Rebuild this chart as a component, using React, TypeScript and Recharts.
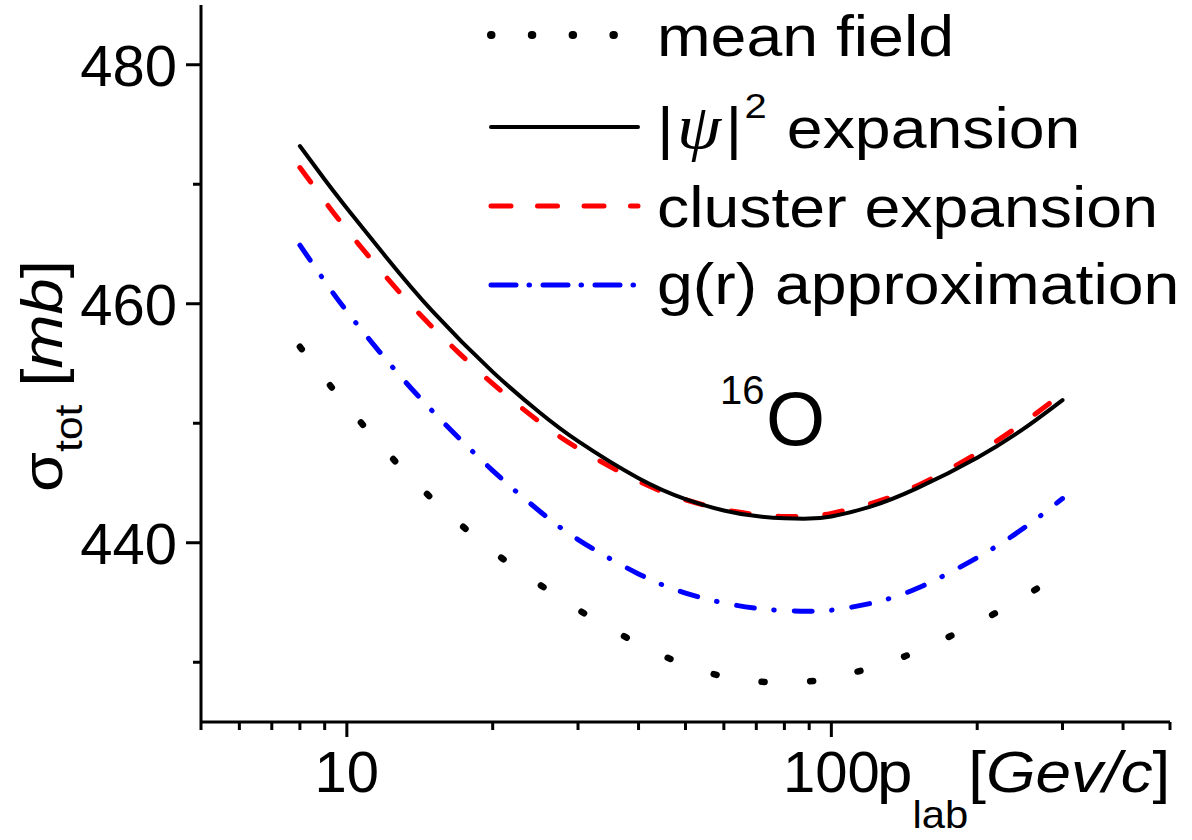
import React from "react";
import { LineChart, Line, XAxis, YAxis, Customized } from "recharts";

// p_lab [GeV/c] sample points
const P_LAB = [8, 9, 10, 12, 15, 20, 25, 30, 40, 50, 60, 70, 80, 90, 100, 120, 150, 200, 250, 300];

// sigma_tot [mb]
const MEAN_FIELD = [456.4, 453.75, 451.45, 447.74, 443.67, 439.3, 436.5, 434.4, 431.53, 429.78, 428.8, 428.4, 428.3, 428.4, 428.7, 429.5, 430.9, 433.3, 435.5, 437.5];
const PSI2_EXP = [473.2, 470.4, 468.0, 464.0, 459.4, 454.3, 450.9, 448.5, 445.4, 443.65, 442.7, 442.23, 442.05, 442.02, 442.2, 443.0, 444.55, 447.12, 449.57, 451.94];
const CLUSTER_EXP = [471.4, 468.6, 466.2, 462.33, 458.06, 453.31, 450.11, 447.9, 445.15, 443.6, 442.77, 442.37, 442.2, 442.23, 442.46, 443.25, 444.75, 447.5, 450.1, 452.5];
const GR_APPROX = [464.9, 461.89, 459.36, 455.41, 451.04, 446.04, 442.64, 440.27, 437.39, 435.79, 434.96, 434.52, 434.32, 434.27, 434.36, 434.91, 436.17, 438.75, 441.25, 443.7];

const X_TICKS = [5, 6, 7, 8, 9, 10, 20, 30, 40, 50, 60, 70, 80, 90, 100, 200, 300, 400, 500];
const X_LABELS = [10, 100];
const Y_TICKS = [430, 440, 450, 460, 470, 480];
const Y_LABELS = [440, 460, 480];

const data = P_LAB.map((p, i) => ({
  p,
  mf: MEAN_FIELD[i],
  psi: PSI2_EXP[i],
  cl: CLUSTER_EXP[i],
  gr: GR_APPROX[i],
}));

const FONT = "'Liberation Sans', Arial, sans-serif";

const STYLES = {
  mf: { stroke: "#000", strokeWidth: 6.5, strokeDasharray: "3 45.7" },
  psi: { stroke: "#000", strokeWidth: 4, strokeDasharray: undefined },
  cl: { stroke: "#ff0000", strokeWidth: 5, strokeDasharray: "18 29" },
  gr: { stroke: "#0000ff", strokeWidth: 5, strokeDasharray: "18 19.5 0.5 20" },
};

// legend samples are drawn a little differently from the curves
const LEGEND = [
  { key: "mf", y: 35, x2: 615, width: 8, dash: "0.5 40.3" },
  { key: "psi", y: 127, x2: 638, width: 4, dash: undefined },
  { key: "cl", y: 206, x2: 638, width: 5, dash: "20 26.5" },
  { key: "gr", y: 285, x2: 638, width: 5, dash: "25 13 0.5 13.5" },
] as const;

function XTick({ x, y, payload }: any) {
  const major = X_LABELS.includes(payload.value);
  return (
    <g>
      <line x1={x} y1={y} x2={x} y2={y + (major ? 15 : 8)} stroke="#000" strokeWidth={3} />
      {major && (
        <text x={x} y={y + 70} textAnchor="middle" fontSize={58} fontFamily={FONT} fill="#000">
          {payload.value}
        </text>
      )}
    </g>
  );
}

function YTick({ x, y, payload }: any) {
  const major = Y_LABELS.includes(payload.value);
  return (
    <g>
      <line x1={x} y1={y} x2={x - (major ? 15 : 8)} y2={y} stroke="#000" strokeWidth={3} />
      {major && (
        <text x={x - 24} y={y + 21} textAnchor="end" fontSize={58} fontFamily={FONT} fill="#000">
          {payload.value}
        </text>
      )}
    </g>
  );
}

function Annotations() {
  return (
    <g fontFamily={FONT} fill="#000">
      {LEGEND.map((l) => (
        <line
          key={l.key}
          x1={491}
          x2={l.x2}
          y1={l.y}
          y2={l.y}
          stroke={STYLES[l.key].stroke}
          strokeWidth={l.width}
          strokeDasharray={l.dash}
          strokeLinecap="round"
        />
      ))}
      <g transform="translate(657,56) scale(1.11,1)">
        <text fontSize={58}>mean field</text>
      </g>
      <g transform="translate(657,148) scale(1.11,1)">
        <text fontSize={58}>
          <tspan>|</tspan>
          <tspan dx={3} fontSize={64} fontFamily="'Liberation Serif', serif" fontStyle="italic">ψ</tspan>
          <tspan dx={4}>|</tspan>
          <tspan dx={2} fontSize={36} dy={-30}>2</tspan>
          <tspan x={117} dy={30}>expansion</tspan>
        </text>
      </g>
      <g transform="translate(657,227) scale(1.11,1)">
        <text fontSize={58}>cluster expansion</text>
      </g>
      <g transform="translate(657,304) scale(1.11,1)">
        <text fontSize={58}>g(r) approximation</text>
      </g>

      {/* nucleus label */}
      <text x={720} y={404} fontSize={40}>16</text>
      <text x={766} y={445} fontSize={76}>O</text>

      {/* x-axis title */}
      <g transform="translate(877,792) scale(1.1,1)">
        <text fontSize={58}>
          <tspan>p</tspan>
          <tspan fontSize={38} dy={36}>lab</tspan>
          <tspan dy={-36}>[</tspan>
          <tspan fontStyle="italic">Gev/c</tspan>
          <tspan>]</tspan>
        </text>
      </g>

      {/* y-axis title */}
      <g transform="translate(62,492) rotate(-90) scale(1.12,1)">
        <text fontSize={58}>
          <tspan>σ</tspan>
          <tspan fontSize={38} dy={20}>tot</tspan>
          <tspan dy={-20}> [</tspan>
          <tspan fontStyle="italic">mb</tspan>
          <tspan>]</tspan>
        </text>
      </g>
    </g>
  );
}

export default function App() {
  return (
    <div style={{ position: "absolute", left: 0, top: 0, width: 1192, height: 840, background: "#fff" }}>
      <LineChart width={1192} height={840} data={data} margin={{ top: 5, right: 22, left: 101, bottom: 58 }}>
        <XAxis
          dataKey="p"
          type="number"
          scale="log"
          domain={[5, 500]}
          ticks={X_TICKS}
          interval={0}
          allowDataOverflow
          height={60}
          tickSize={0}
          tickMargin={0}
          tickLine={false}
          axisLine={{ stroke: "#000", strokeWidth: 3 }}
          tick={<XTick />}
        />
        <YAxis
          type="number"
          domain={[425, 485]}
          ticks={Y_TICKS}
          interval={0}
          allowDataOverflow
          width={100}
          tickSize={0}
          tickMargin={0}
          tickLine={false}
          axisLine={{ stroke: "#000", strokeWidth: 3 }}
          tick={<YTick />}
        />
        {(["mf", "gr", "cl", "psi"] as const).map((k) => (
          <Line
            key={k}
            dataKey={k}
            type="natural"
            dot={false}
            activeDot={false}
            stroke={STYLES[k].stroke}
            strokeWidth={STYLES[k].strokeWidth}
            strokeDasharray={STYLES[k].strokeDasharray}
            strokeLinecap="round"
            isAnimationActive={false}
          />
        ))}
        <Customized component={Annotations} />
      </LineChart>
    </div>
  );
}
